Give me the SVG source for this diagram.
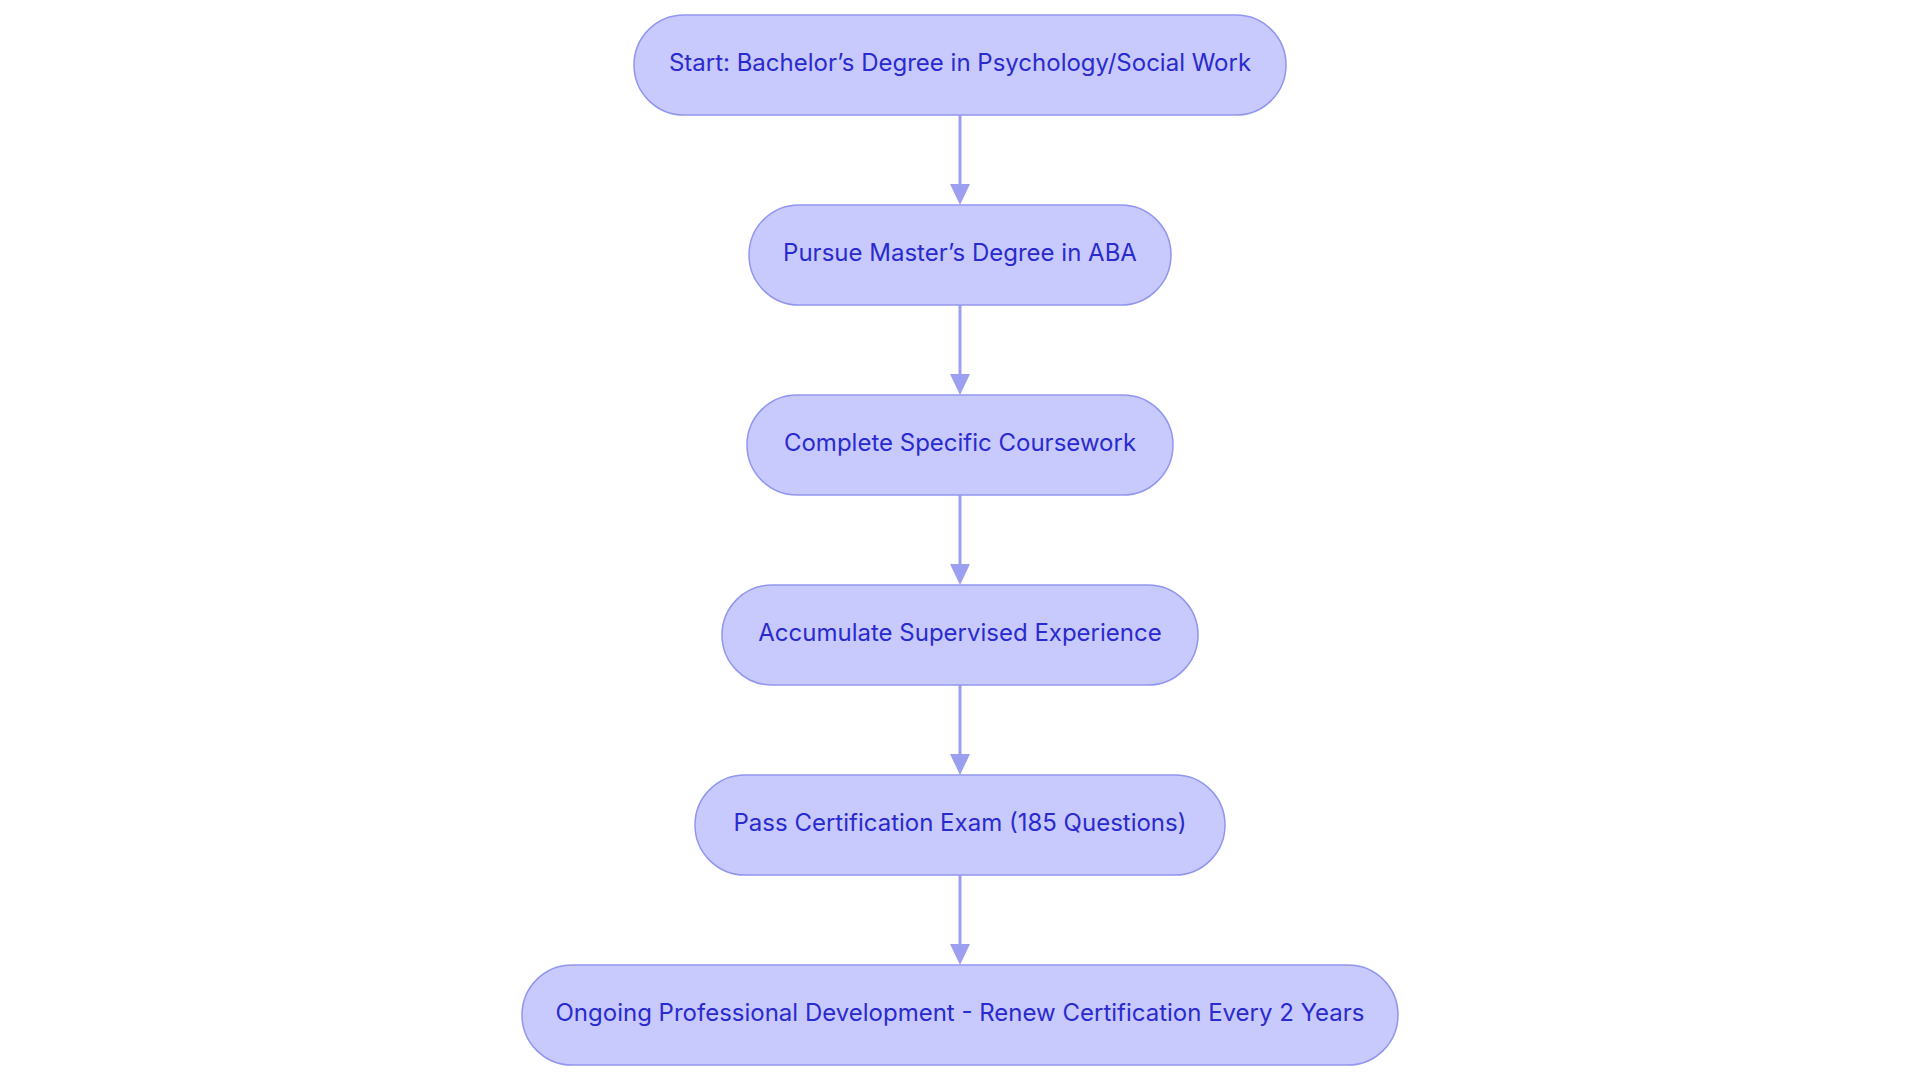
<svg xmlns="http://www.w3.org/2000/svg" width="1920" height="1083" viewBox="0 0 1920 1083">
<style>
.node rect{fill:#c8c9fc;stroke:#9296ee;stroke-width:1.5}
.node text{font-family:Inter,"Noto Sans","Liberation Sans",sans-serif;font-size:24px;fill:#2a2bcf;text-anchor:middle;dominant-baseline:central}
.edge{stroke:#9c9fef;stroke-width:3;fill:none}
.head{fill:#9c9fef}
</style>
<rect width="1920" height="1083" fill="#ffffff"/>
<g id="connectors">
<g><line class="edge" x1="960" y1="115" x2="960" y2="186"/><polygon class="head" points="950,184 970,184 960,205"/></g>
<g><line class="edge" x1="960" y1="305" x2="960" y2="376"/><polygon class="head" points="950,374 970,374 960,395"/></g>
<g><line class="edge" x1="960" y1="495" x2="960" y2="566"/><polygon class="head" points="950,564 970,564 960,585"/></g>
<g><line class="edge" x1="960" y1="685" x2="960" y2="756"/><polygon class="head" points="950,754 970,754 960,775"/></g>
<g><line class="edge" x1="960" y1="875" x2="960" y2="946"/><polygon class="head" points="950,944 970,944 960,965"/></g>
</g>
<g id="n1" class="node"><rect x="634" y="15" width="652" height="100" rx="50" ry="50"/><text x="960" y="62.5">Start: Bachelor’s Degree in Psychology/Social Work</text></g>
<g id="n2" class="node"><rect x="749" y="205" width="422" height="100" rx="50" ry="50"/><text x="960" y="252.5">Pursue Master’s Degree in ABA</text></g>
<g id="n3" class="node"><rect x="747" y="395" width="426" height="100" rx="50" ry="50"/><text x="960" y="442.5">Complete Specific Coursework</text></g>
<g id="n4" class="node"><rect x="722" y="585" width="476" height="100" rx="50" ry="50"/><text x="960" y="632.5">Accumulate Supervised Experience</text></g>
<g id="n5" class="node"><rect x="695" y="775" width="530" height="100" rx="50" ry="50"/><text x="960" y="822.5">Pass Certification Exam (185 Questions)</text></g>
<g id="n6" class="node"><rect x="522" y="965" width="876" height="100" rx="50" ry="50"/><text x="960" y="1012.5">Ongoing Professional Development - Renew Certification Every 2 Years</text></g>
</svg>
